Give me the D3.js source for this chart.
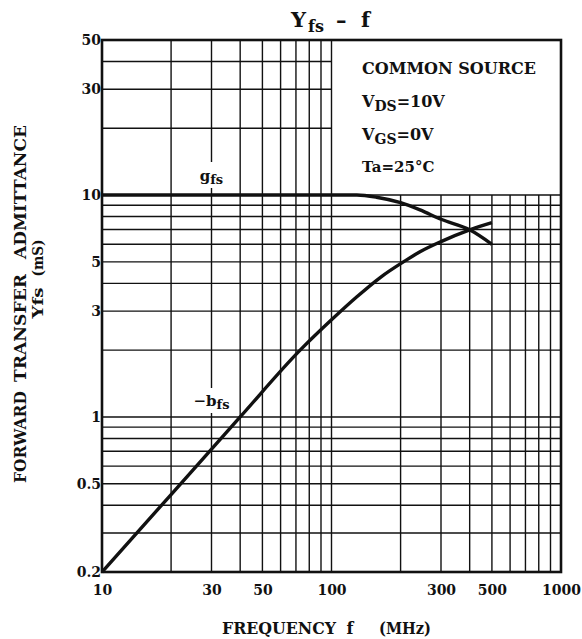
<!DOCTYPE html>
<html><head><meta charset="utf-8">
<script src="https://cdn.jsdelivr.net/npm/d3@7"></script>
<style>
html,body{margin:0;padding:0;background:#fff;}
svg{display:block;}
text{font-family:"DejaVu Serif",serif;font-weight:bold;fill:#111;}
</style></head>
<body>
<svg id="chart" width="582" height="639"></svg>
<script>
// ---- data ----
const xTickLabels = [10, 30, 50, 100, 300, 500, 1000];
const yTickLabels = [0.2, 0.5, 1, 3, 5, 10, 30, 50];
const xGrid = [20,30,40,50,60,70,80,90,100,200,300,400,500,600,700,800,900];
const yGrid = [0.3,0.4,0.5,0.6,0.7,0.8,0.9,1,2,3,4,5,6,7,8,9,10,20,30,40];
const gfsFreq = [10, 50, 100, 129, 157, 200, 243, 300, 400, 500];
const gfsVal  = [10, 10, 10, 10, 9.78, 9.24, 8.57, 7.78, 6.97, 6.0];
const bfsFreq = [10, 20, 40, 73, 100, 129, 163, 209, 243, 300, 400, 500];
const bfsVal  = [0.2, 0.447, 1.0, 2.0, 2.74, 3.48, 4.25, 5.05, 5.55, 6.17, 6.97, 7.51];
const legendLines = ["COMMON SOURCE", "V|DS|=10V", "V|GS|=0V", "Ta=25°C"];
const yTitleWords = ["ADMITTANCE", "TRANSFER", "FORWARD"];
const xTitleWords = ["FREQUENCY", "f", "(MHz)"];

// ---- layout ----
const L = 102, R = 561, T = 40, B = 572;
const svg = d3.select("#chart");
const x = d3.scaleLog().domain([10, 1000]).range([L, R]);
const y = d3.scaleLog().domain([0.2, 50]).range([B, T]);
const ink = "#111";

// grid
const g = svg.append("g");
xGrid.forEach(v => {
  const top = v > 100 ? y(10) : T;
  g.append("line").attr("x1", x(v)).attr("x2", x(v)).attr("y1", top).attr("y2", B)
    .attr("stroke", ink).attr("stroke-width", 1.4);
});
yGrid.forEach(v => {
  const right = v > 10 ? x(100) : R;
  g.append("line").attr("x1", L).attr("x2", right).attr("y1", y(v)).attr("y2", y(v))
    .attr("stroke", ink).attr("stroke-width", 1.4);
});

// axes (labels only, via d3 axes)
const xAxis = d3.axisBottom(x).tickValues(xTickLabels).tickSize(0).tickPadding(0).tickFormat(d3.format("d"));
const xa = svg.append("g").attr("transform", `translate(0,${B})`).call(xAxis);
xa.select(".domain").remove();
xa.selectAll("text").attr("dy", null).attr("y", 23).style("font-size", "14px")
  .style("font-family", "DejaVu Serif").style("font-weight", "bold").attr("fill", ink);

const yAxis = d3.axisLeft(y).tickValues(yTickLabels).tickSize(0).tickPadding(0).tickFormat(d => String(d));
const ya = svg.append("g").attr("transform", `translate(${L - 1},0)`).call(yAxis);
ya.select(".domain").remove();
ya.selectAll("text").style("font-size", "14px").style("font-family", "DejaVu Serif")
  .style("font-weight", "bold").attr("fill", ink);

// curve labels with white background (they interrupt the grid line)
function curveLabel(cx, by, main, sub, gapTop, gapBot) {
  svg.append("rect").attr("x", cx - 4).attr("width", 8).attr("y", gapTop).attr("height", gapBot - gapTop).attr("fill", "#fff");
  const t = svg.append("text").attr("x", cx).attr("y", by).attr("text-anchor", "middle").style("font-size", "15px");
  t.append("tspan").text(main);
  t.append("tspan").text(sub).attr("dy", 3).style("font-size", "13px");
}
curveLabel(x(30), 181, "g", "fs", 162, 188);
curveLabel(x(30), 406, "\u2212b", "fs", 388, 413);

// curves
const line = d3.line().curve(d3.curveMonotoneX);
svg.append("path").attr("d", line(gfsFreq.map((f, i) => [x(f), y(gfsVal[i])])))
  .attr("fill", "none").attr("stroke", ink).attr("stroke-width", 3.4).attr("stroke-linejoin", "round");
svg.append("path").attr("d", line(bfsFreq.map((f, i) => [x(f), y(bfsVal[i])])))
  .attr("fill", "none").attr("stroke", ink).attr("stroke-width", 3.4).attr("stroke-linejoin", "round");

// border
svg.append("rect").attr("x", L).attr("y", T).attr("width", R - L).attr("height", B - T)
  .attr("fill", "none").attr("stroke", ink).attr("stroke-width", 2.6);

// legend text
const legY = [74, 107, 140, 172];
legendLines.forEach((s, i) => {
  const t = svg.append("text").attr("x", 362).attr("y", legY[i]).style("font-size", i === 3 ? "15px" : "16px");
  const parts = s.split("|");
  if (parts.length === 1) { t.text(s); }
  else {
    t.append("tspan").text(parts[0]);
    t.append("tspan").text(parts[1]).attr("dy", 4).style("font-size", "14px");
    t.append("tspan").text(parts[2]).attr("dy", -4);
  }
});

// title
const title = svg.append("text").attr("y", 27).style("font-size", "21px");
title.append("tspan").attr("x", 291).text("Y");
title.append("tspan").attr("x", 308).text("fs").attr("dy", 5).style("font-size", "16px");
title.append("tspan").attr("x", 336).text("\u2013").attr("dy", -5);
title.append("tspan").attr("x", 361).text("f");

// x axis title
const xtPos = [[279, 114], [350, 0], [405, 52]];
xTitleWords.forEach((w, i) => {
  const t = svg.append("text").attr("x", xtPos[i][0]).attr("y", 634).attr("text-anchor", "middle")
    .style("font-size", "16px").text(w);
  if (xtPos[i][1]) t.attr("textLength", xtPos[i][1]).attr("lengthAdjust", "spacingAndGlyphs");
});

// y axis title (rotated)
const ytPos = [[192, 134], [328, 108], [437, 92]];
yTitleWords.forEach((w, i) => {
  svg.append("text").attr("transform", `translate(26,${ytPos[i][0]}) rotate(-90)`).attr("text-anchor", "middle")
    .style("font-size", "16px").attr("textLength", ytPos[i][1]).attr("lengthAdjust", "spacingAndGlyphs").text(w);
});
svg.append("text").attr("transform", "translate(43,258) rotate(-90)").attr("text-anchor", "middle")
  .style("font-size", "15px").attr("textLength", 37).attr("lengthAdjust", "spacingAndGlyphs").text("(mS)");
svg.append("text").attr("transform", "translate(43,303) rotate(-90)").attr("text-anchor", "middle")
  .style("font-size", "15px").attr("textLength", 31).attr("lengthAdjust", "spacingAndGlyphs").text("Yfs");
</script>
</body></html>
